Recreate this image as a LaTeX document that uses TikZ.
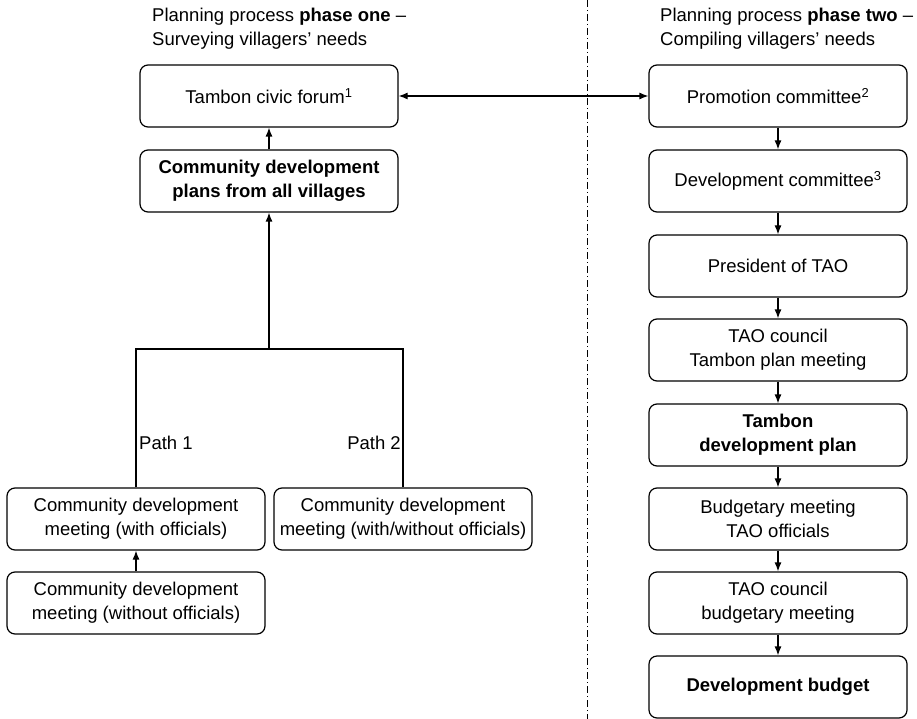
\documentclass[tikz,border=0pt]{standalone}
\usepackage{fontspec}
\setmainfont{Liberation Sans}
\usetikzlibrary{arrows.meta}

\tikzset{
  box/.style={draw,rounded corners=8pt,minimum width=258pt,minimum height=62pt,align=center,line width=1.2pt,inner sep=2pt},
  arr/.style={-{Latex[length=9pt,width=7pt]},line width=1.2pt},
}

\begin{document}
\begin{tikzpicture}[x=1pt,y=-1pt,font=\fontsize{18.5}{24}\selectfont]
\useasboundingbox (0,0) rectangle (917,719);

% headings
\path (152,8) node[anchor=north west,align=left,inner sep=0] (H1) {Planning process \textbf{phase one} --\\Surveying villagers' needs};
\path (660,8) node[anchor=north west,align=left,inner sep=0] (H2) {Planning process \textbf{phase two} --\\Compiling villagers' needs};

% phase one
\path (269,96) node[box] (A) {Tambon civic forum\textsuperscript{1}};
\path (269,181) node[box] (B) {\textbf{Community development}\\\textbf{plans from all villages}};
\path (136,519) node[box] (C) {Community development\\meeting (with officials)};
\path (403,519) node[box] (D) {Community development\\meeting (with/without officials)};
\path (136,603) node[box] (E) {Community development\\meeting (without officials)};
\coordinate (J) at (269,349);

% phase two
\path (778,96) node[box] (P) {Promotion committee\textsuperscript{2}};
\path (778,181) node[box] (Q) {Development committee\textsuperscript{3}};
\path (778,266) node[box] (R) {President of TAO};
\path (778,350) node[box] (S) {TAO council\\Tambon plan meeting};
\path (778,435) node[box] (T) {\textbf{Tambon}\\\textbf{development plan}};
\path (778,519) node[box] (U) {Budgetary meeting\\TAO officials};
\path (778,603) node[box] (V) {TAO council\\budgetary meeting};
\path (778,687) node[box] (W) {\textbf{Development budget}};

% divider
\coordinate (Z1) at (587,0);
\coordinate (Z2) at (587,719);
\draw[line width=0.9pt,dash pattern=on 7pt off 3pt on 1pt off 3pt] (Z1) -- (Z2);

\draw[line width=1.2pt] (C.north) |- (J) -| (D.north);
\path (C.north) ++(0,-45) node[anchor=west,inner sep=3pt] (L1) {Path 1};
\path (D.north) ++(1,-45) node[anchor=east,inner sep=3pt] (L2) {Path 2};

\draw[arr] (J) -- (B.south);
\draw[arr] (B) -- (A);
\draw[arr] (E) -- (C);
\draw[{Latex[length=9pt,width=7pt]}-{Latex[length=9pt,width=7pt]},line width=1.2pt] (A) -- (P);
\draw[arr] (P) -- (Q);
\draw[arr] (Q) -- (R);
\draw[arr] (R) -- (S);
\draw[arr] (S) -- (T);
\draw[arr] (T) -- (U);
\draw[arr] (U) -- (V);
\draw[arr] (V) -- (W);
\end{tikzpicture}
\end{document}
